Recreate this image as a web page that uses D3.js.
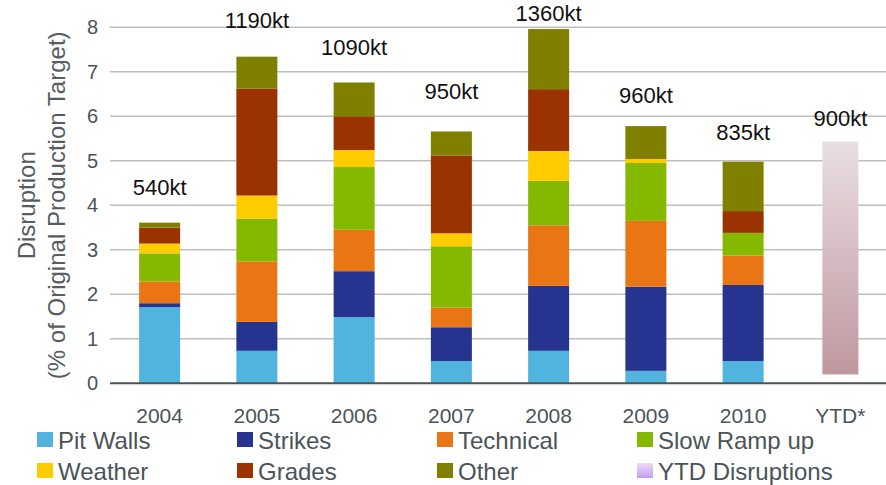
<!DOCTYPE html>
<html>
<head>
<meta charset="utf-8">
<script src="https://cdn.jsdelivr.net/npm/d3@7"></script>
<style>
  body { margin: 0; background: #fff; }
  svg { display: block; }
  text { font-family: "Liberation Sans", Arial, Helvetica, sans-serif; }
</style>
</head>
<body>
<svg id="chart" width="886" height="485"></svg>
<script>
// ---- data: disruption as % of original production target ----
const years = ["2004", "2005", "2006", "2007", "2008", "2009", "2010"];
const categories = [...years, "YTD*"];
const causes = ["Pit Walls", "Strikes", "Technical", "Slow Ramp up", "Weather", "Grades", "Other"];

const pitWalls   = [1.71, 0.73, 1.49, 0.50, 0.73, 0.28, 0.50];
const strikes    = [0.09, 0.65, 1.03, 0.76, 1.46, 1.89, 1.71];
const technical  = [0.49, 1.36, 0.93, 0.44, 1.36, 1.48, 0.66];
const slowRampUp = [0.63, 0.96, 1.41, 1.38, 1.00, 1.30, 0.51];
const weather    = [0.22, 0.52, 0.38, 0.29, 0.67, 0.09, 0.00];
const grades     = [0.36, 2.40, 0.76, 1.75, 1.39, 0.00, 0.49];
const other      = [0.11, 0.72, 0.76, 0.54, 1.35, 0.74, 1.11];

// year-to-date disruption band (low, high)
const ytdRange = [0.20, 5.43];

// lost volume per period
const volumeLabels = ["540kt", "1190kt", "1090kt", "950kt", "1360kt", "960kt", "835kt", "900kt"];
const yTicks = [0, 1, 2, 3, 4, 5, 6, 7, 8];

// ---- styling ----
const causeColors = ["#51b4df", "#263490", "#e97514", "#84b900", "#ffcc00", "#9a3300", "#808000"];
const labelLift = [28, 29, 27, 32, 29, 23, 22, 16];   // px gap between bar top and volume label

const seriesValues = [pitWalls, strikes, technical, slowRampUp, weather, grades, other];
const rows = years.map((yr, i) => {
  const r = { year: yr };
  causes.forEach((c, k) => { r[c] = seriesValues[k][i]; });
  return r;
});

const svg = d3.select("#chart");
const plotLeft = 111, plotRight = 889, plotTop = 27.3, plotBottom = 383.3;

const x = d3.scaleBand().domain(categories).range([plotLeft, plotRight]);
const y = d3.scaleLinear().domain([0, 8]).range([plotBottom, plotTop]);
const color = d3.scaleOrdinal().domain(causes).range(causeColors);
const barW = 41, ytdW = 36;

// gradients
const defs = svg.append("defs");
const g1 = defs.append("linearGradient").attr("id", "ytdFill")
  .attr("x1", 0).attr("y1", 0).attr("x2", 0).attr("y2", 1);
g1.append("stop").attr("offset", "0%").attr("stop-color", "#e9dfe3");
g1.append("stop").attr("offset", "100%").attr("stop-color", "#c0979f");
const g2 = defs.append("linearGradient").attr("id", "ytdSwatch")
  .attr("x1", 0).attr("y1", 0).attr("x2", 0).attr("y2", 1);
g2.append("stop").attr("offset", "0%").attr("stop-color", "#ecdcfa");
g2.append("stop").attr("offset", "100%").attr("stop-color", "#c49cf0");

// gridlines
svg.append("g").selectAll("line")
  .data(yTicks.filter(t => t > 0))
  .join("line")
  .attr("x1", plotLeft - 1).attr("x2", 886)
  .attr("y1", d => y(d)).attr("y2", d => y(d))
  .attr("stroke", "#bfbfbf").attr("stroke-width", 1.5);

// y axis labels
const yAxis = svg.append("g")
  .attr("transform", `translate(${plotLeft - 1},0)`)
  .call(d3.axisLeft(y).tickValues(yTicks).tickSize(0).tickPadding(12).tickFormat(d3.format("d")));
yAxis.select(".domain").remove();
yAxis.selectAll("text")
  .attr("font-size", 20).attr("fill", "#4a5459")
  .style("font-family", '"Liberation Sans", Arial, sans-serif');

// stacked bars
const stacked = d3.stack().keys(causes)(rows);
svg.append("g").selectAll("g")
  .data(stacked)
  .join("g")
  .attr("fill", d => color(d.key))
  .selectAll("rect")
  .data(d => d)
  .join("rect")
  .attr("x", d => x(d.data.year) + x.bandwidth() / 2 - barW / 2)
  .attr("width", barW)
  .attr("y", d => y(d[1]))
  .attr("height", d => Math.max(0, y(d[0]) - y(d[1])));

// YTD band
svg.append("rect")
  .attr("x", x("YTD*") + x.bandwidth() / 2 - ytdW / 2)
  .attr("width", ytdW)
  .attr("y", y(ytdRange[1]))
  .attr("height", y(ytdRange[0]) - y(ytdRange[1]))
  .attr("fill", "url(#ytdFill)");

// volume labels
const tops = stacked[stacked.length - 1].map(d => d[1]).concat([ytdRange[1]]);
svg.append("g").selectAll("text")
  .data(categories)
  .join("text")
  .attr("x", d => x(d) + x.bandwidth() / 2)
  .attr("y", (d, i) => Math.max(21, y(tops[i]) - labelLift[i]))
  .attr("text-anchor", "middle")
  .attr("font-size", 22)
  .attr("fill", "#111")
  .text((d, i) => volumeLabels[i]);

// baseline
svg.append("line")
  .attr("x1", plotLeft - 1).attr("x2", 886)
  .attr("y1", y(0)).attr("y2", y(0))
  .attr("stroke", "#4a5459").attr("stroke-width", 2);

// x axis labels
const xAxis = svg.append("g")
  .attr("transform", `translate(0,${y(0)})`)
  .call(d3.axisBottom(x).tickSize(0));
xAxis.select(".domain").remove();
xAxis.selectAll("text")
  .attr("y", 40).attr("dy", 0)
  .attr("font-size", 21).attr("fill", "#4a5459")
  .style("font-family", '"Liberation Sans", Arial, sans-serif');

// axis title
const title = svg.append("g")
  .attr("transform", `translate(0,${(plotTop + plotBottom) / 2}) rotate(-90)`)
  .attr("text-anchor", "middle")
  .attr("font-size", 24)
  .attr("fill", "#555d61");
title.append("text").attr("x", 0).attr("y", 35).text("Disruption");
title.append("text").attr("x", 0).attr("y", 65).text("(% of Original Production Target)");

// legend
const legendItems = causes.concat(["YTD Disruptions"]);
const legend = svg.append("g").selectAll("g")
  .data(legendItems)
  .join("g")
  .attr("transform", (d, i) => `translate(${37 + (i % 4) * 200},${i < 4 ? 432 : 463})`);
legend.append("rect")
  .attr("width", 16).attr("height", 15)
  .attr("fill", (d, i) => i < causes.length ? color(d) : "url(#ytdSwatch)");
legend.append("text")
  .attr("x", 21).attr("y", 17)
  .attr("font-size", 24)
  .attr("fill", "#4a5459")
  .text(d => d);
</script>
</body>
</html>
